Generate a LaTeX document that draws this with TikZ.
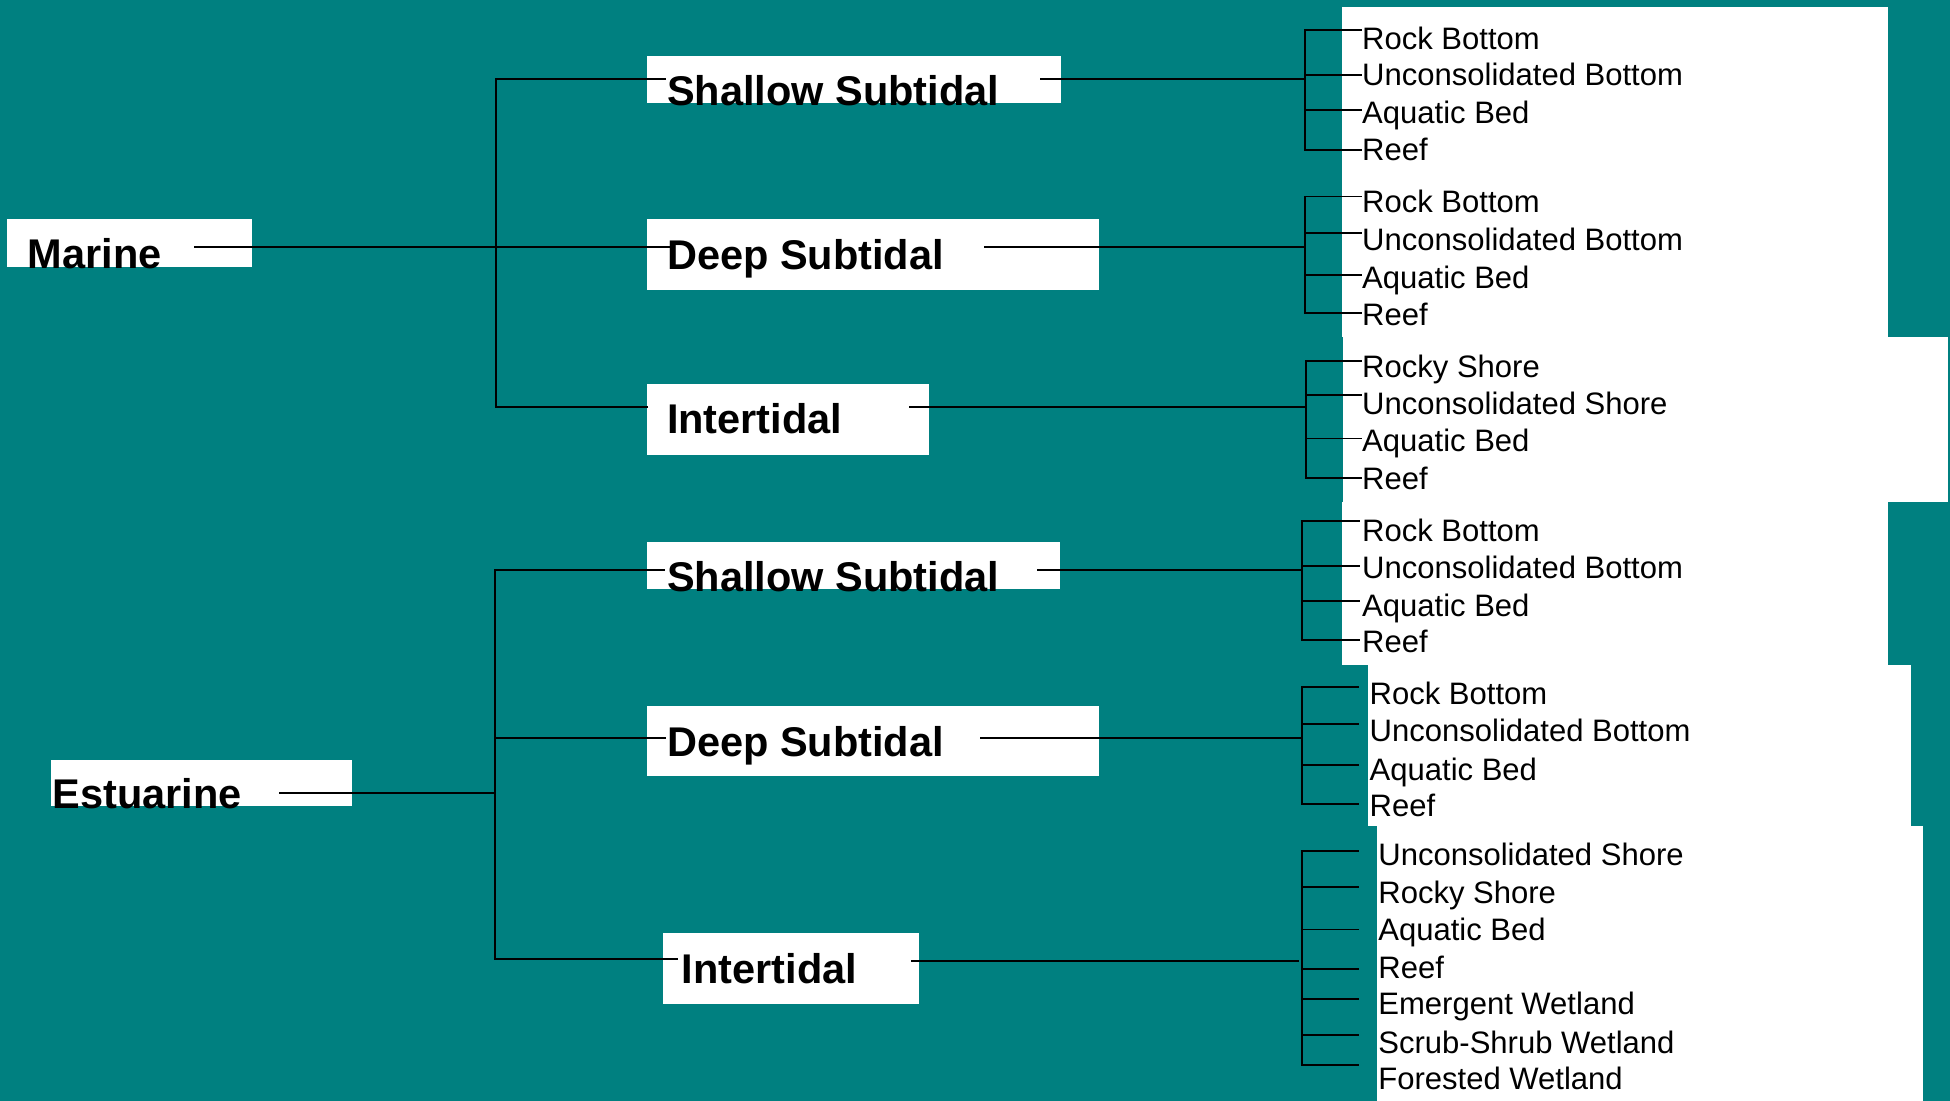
\documentclass[tikz,border=0pt]{standalone}
\usepackage{fontspec}
\setmainfont{Liberation Sans}
\definecolor{seateal}{RGB}{0,128,128}
\tikzset{
  head/.style={anchor=base west, inner sep=0pt, font=\fontsize{19}{23}\selectfont\bfseries},
  leaf/.style={anchor=base west, inner sep=0pt, font=\fontsize{14.2}{17}\selectfont},
  wire/.style={line width=0.9pt, black, line cap=rect},
}
\begin{document}
\begin{tikzpicture}[x=0.02cm, y=-0.02cm]
    \fill[seateal] (0,0) rectangle (1568,885);
    \useasboundingbox (0,0) rectangle (1568,885);

    % white boxes and panels
    \fill[white] (6,176) rectangle (202.5,214.4);
    \fill[white] (520,45) rectangle (853,82.6);
    \fill[white] (520,176) rectangle (884,233);
    \fill[white] (520,309) rectangle (747,366);
    \fill[white] (41,611) rectangle (283,648.5);
    \fill[white] (520,436) rectangle (852.4,473.5);
    \fill[white] (520,567.6) rectangle (884,624.2);
    \fill[white] (533,750.4) rectangle (739,807);
    \fill[white] (1079,6) rectangle (1518,271);
    \fill[white] (1080,271) rectangle (1566,403.5);
    \fill[white] (1079,403.5) rectangle (1518,535);
    \fill[white] (1100,535) rectangle (1537,664);
    \fill[white] (1107,664) rectangle (1546,885);

    \node[head] (marine) at (22,216) {Marine};
    \node[head] (m-shallow) at (536,85) {Shallow Subtidal};
    \node[head] (m-deep) at (536,216.5) {Deep Subtidal};
    \node[head] (m-inter) at (536,348.4) {Intertidal};
    \node[head] (estuarine) at (42,650) {Estuarine};
    \node[head] (e-shallow) at (536,476) {Shallow Subtidal};
    \node[head] (e-deep) at (536,608) {Deep Subtidal};
    \node[head] (e-inter) at (548,791) {Intertidal};

    % marine tree
    \coordinate (m-root) at (157,198.6);
    \coordinate (m-fork) at (399,198.6);
    \coordinate (m-shallow-in) at (535,63.5);
    \coordinate (m-deep-in) at (538,198.6);
    \coordinate (m-inter-in) at (520,327.5);
    \draw[wire] (m-root) -- (m-deep-in);
    \draw[wire] (m-shallow-in) -- (m-shallow-in -| m-fork) -- (m-inter-in -| m-fork) -- (m-inter-in);

    \coordinate (m-shallow-out) at (837,63.5);
    \coordinate (m-shallow-bar) at (1049,63.5);
    \coordinate (m-deep-out) at (792,198.6);
    \coordinate (m-deep-bar) at (1049,198.6);
    \coordinate (m-inter-out) at (731.4,327.5);
    \coordinate (m-inter-bar) at (1050,327.5);
    \draw[wire] (m-shallow-out) -- (m-shallow-bar);
    \draw[wire] (m-deep-out) -- (m-deep-bar);
    \draw[wire] (m-inter-out) -- (m-inter-bar);

    \foreach \t/\b/\txt [count=\i] in {24.5/39.5/Rock Bottom, 60/69/Unconsolidated Bottom, 88.3/99.3/Aquatic Bed, 120.4/129.2/Reef} {
        \node[leaf] (ms\i) at (1095,\b) {\txt};
        \coordinate (ms\i-t) at (1094,\t);
        \draw[wire] (ms\i-t -| m-shallow-bar) -- (ms\i-t);
    }
    \draw[wire] (ms1-t -| m-shallow-bar) -- (ms4-t -| m-shallow-bar);

    \foreach \t/\b/\txt [count=\i] in {158/171.2/Rock Bottom, 187/201.7/Unconsolidated Bottom, 220.8/231.8/Aquatic Bed, 251.9/261.5/Reef} {
        \node[leaf] (md\i) at (1095,\b) {\txt};
        \coordinate (md\i-t) at (1094,\t);
        \draw[wire] (md\i-t -| m-deep-bar) -- (md\i-t);
    }
    \draw[wire] (md1-t -| m-deep-bar) -- (md4-t -| m-deep-bar);

    \foreach \t/\b/\txt [count=\i] in {290/303.2/Rocky Shore, 318/333.4/Unconsolidated Shore, 352.6/363.2/Aquatic Bed, 384.2/393.5/Reef} {
        \node[leaf] (mi\i) at (1095,\b) {\txt};
        \coordinate (mi\i-t) at (1094,\t);
        \draw[wire] (mi\i-t -| m-inter-bar) -- (mi\i-t);
    }
    \draw[wire] (mi1-t -| m-inter-bar) -- (mi4-t -| m-inter-bar);

    % estuarine tree
    \coordinate (e-root) at (225,637.5);
    \coordinate (e-fork) at (397.7,637.5);
    \coordinate (e-shallow-in) at (533.6,458);
    \coordinate (e-deep-in) at (535,593.4);
    \coordinate (e-inter-in) at (544,770.8);
    \draw[wire] (e-root) -- (e-fork);
    \draw[wire] (e-shallow-in) -- (e-shallow-in -| e-fork) -- (e-inter-in -| e-fork) -- (e-inter-in);
    \draw[wire] (e-deep-in -| e-fork) -- (e-deep-in);

    \coordinate (e-shallow-out) at (835,458.4);
    \coordinate (e-shallow-bar) at (1047,458.4);
    \coordinate (e-deep-out) at (788.6,593.4);
    \coordinate (e-deep-bar) at (1047,593.4);
    \coordinate (e-inter-out) at (733.4,772.6);
    \coordinate (e-inter-end) at (1044,772.6);
    \coordinate (e-inter-bar) at (1047,772.6);
    \draw[wire] (e-shallow-out) -- (e-shallow-bar);
    \draw[wire] (e-deep-out) -- (e-deep-bar);
    \draw[wire] (e-inter-out) -- (e-inter-end);

    \foreach \t/\b/\txt [count=\i] in {419/435.3/Rock Bottom, 455/465.2/Unconsolidated Bottom, 483.6/496/Aquatic Bed, 514.4/525/Reef} {
        \node[leaf] (es\i) at (1095,\b) {\txt};
        \coordinate (es\i-t) at (1092.4,\t);
        \draw[wire] (es\i-t -| e-shallow-bar) -- (es\i-t);
    }
    \draw[wire] (es1-t -| e-shallow-bar) -- (es4-t -| e-shallow-bar);

    \foreach \t/\b/\txt [count=\i] in {552.3/566.7/Rock Bottom, 582.1/596.6/Unconsolidated Bottom, 615/627.6/Aquatic Bed, 646.8/656.9/Reef} {
        \node[leaf] (ed\i) at (1101,\b) {\txt};
        \coordinate (ed\i-t) at (1092,\t);
        \draw[wire] (ed\i-t -| e-deep-bar) -- (ed\i-t);
    }
    \draw[wire] (ed1-t -| e-deep-bar) -- (ed4-t -| e-deep-bar);

    \foreach \t/\b/\txt [count=\i] in {684.3/696/Unconsolidated Shore, 712.9/726.8/Rocky Shore, 747.4/755.9/Aquatic Bed, 779/786.8/Reef, 803.6/816/Emergent Wetland, 832/846.8/Scrub-Shrub Wetland, 856/876/Forested Wetland} {
        \node[leaf] (ei\i) at (1108,\b) {\txt};
        \coordinate (ei\i-t) at (1092,\t);
        \draw[wire] (ei\i-t -| e-inter-bar) -- (ei\i-t);
    }
    \draw[wire] (ei1-t -| e-inter-bar) -- (ei7-t -| e-inter-bar);
\end{tikzpicture}
\end{document}
